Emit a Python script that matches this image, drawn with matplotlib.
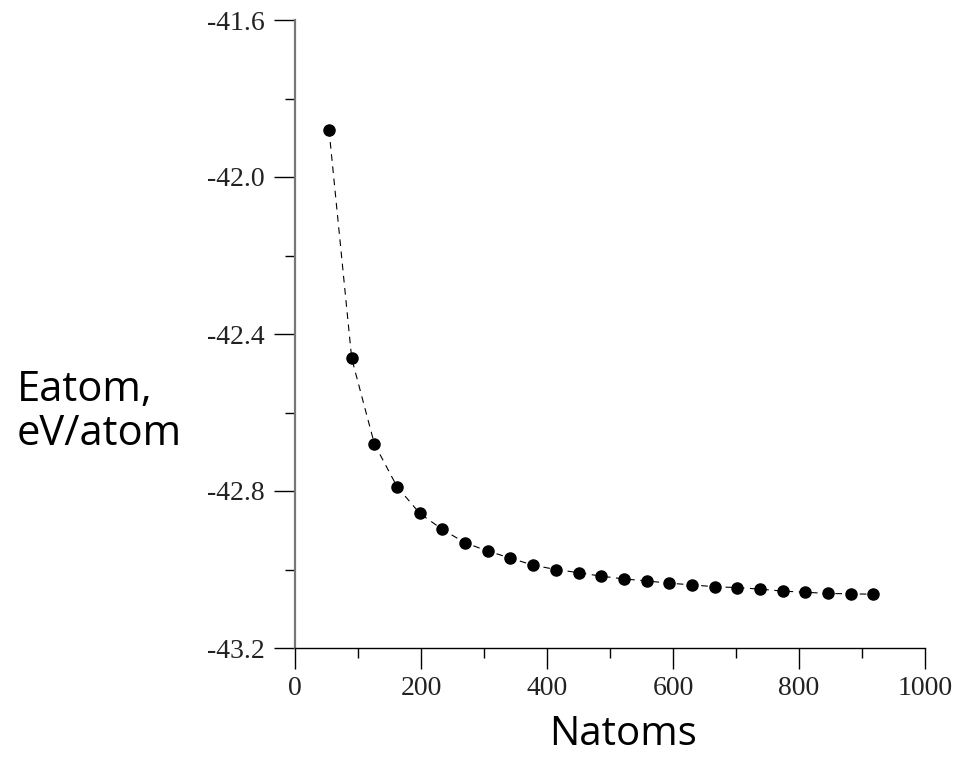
import numpy as np
import matplotlib
matplotlib.use('Agg')
import matplotlib.pyplot as plt
from matplotlib.ticker import MultipleLocator

# ── data ─────────────────────────────────────────────────────────────────────
natoms = [54, 90, 126, 162, 198, 234, 270, 306, 342, 378, 414, 450, 486,
          522, 558, 594, 630, 666, 702, 738, 774, 810, 846, 882, 918]
eatom = [-41.880, -42.462, -42.680, -42.789, -42.857, -42.898, -42.932,
         -42.953, -42.971, -42.989, -43.000, -43.008, -43.017, -43.024,
         -43.029, -43.035, -43.039, -43.044, -43.046, -43.050, -43.055,
         -43.058, -43.061, -43.062, -43.063]

x_ticks = [0, 200, 400, 600, 800, 1000]
y_ticks = [-41.6, -42.0, -42.4, -42.8, -43.2]

# ── figure ───────────────────────────────────────────────────────────────────
fig = plt.figure(figsize=(9.71, 7.59), dpi=100, facecolor='white')
ax = fig.add_axes([295 / 971, 1 - 648 / 759, 630 / 971, 628 / 759])

ax.plot(natoms, eatom, color='black', linestyle=(0, (6, 5)), linewidth=0.8,
        zorder=2)
ax.plot(natoms, eatom, 'o', color='black', markersize=8, zorder=3)

ax.set_xlim(0, 1000)
ax.set_ylim(-43.2, -41.6)
ax.set_xticks(x_ticks)
ax.set_xticklabels([str(v) for v in x_ticks])
ax.set_yticks(y_ticks)
ax.set_yticklabels([f'{v:.1f}' for v in y_ticks])
ax.xaxis.set_minor_locator(MultipleLocator(100))
ax.yaxis.set_minor_locator(MultipleLocator(0.2))

for lab in ax.get_xticklabels() + ax.get_yticklabels():
    lab.set_fontfamily('Liberation Serif')
    lab.set_fontsize(20)
    lab.set_color('#222222')

ax.tick_params(axis='both', which='major', direction='out', length=15,
               width=1.0, color='black', pad=7)
ax.tick_params(axis='x', which='major', pad=5)
ax.tick_params(axis='both', which='minor', direction='out', length=7.5,
               width=1.0, color='black')

ax.spines['top'].set_visible(False)
ax.spines['right'].set_visible(False)
ax.spines['left'].set_color('#777777')
ax.spines['left'].set_linewidth(1.6)
ax.spines['bottom'].set_color('black')
ax.spines['bottom'].set_linewidth(1.0)

# axis titles
label_font = dict(family=['Open Sans', 'DejaVu Sans'], size=29)
fig.text(623 / 971, 1 - 735 / 759, 'Natoms', ha='center', va='center',
         **label_font)
fig.text(17 / 971, 1 - 412 / 759, 'Eatom,\neV/atom', ha='left', va='center',
         linespacing=1.05, fontsize=30,
         family=label_font['family'])

fig.savefig('out.png', dpi=100, facecolor='white')
